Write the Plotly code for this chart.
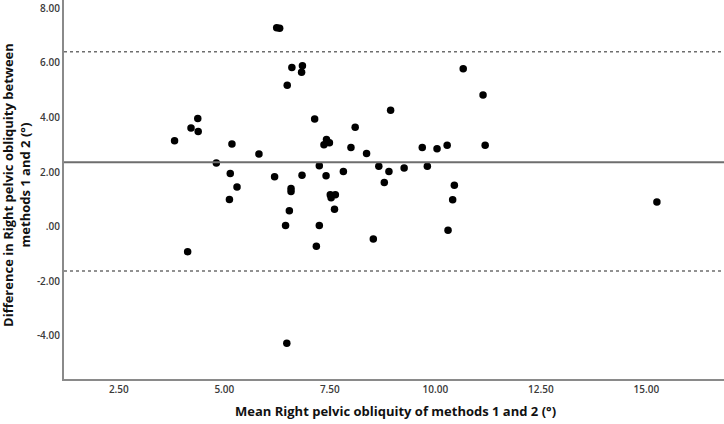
import plotly.graph_objects as go

# Bland-Altman data: mean of methods (x) and difference (y)
mean_vals = [6.24, 6.31, 6.60, 6.85, 6.83, 6.49, 4.37, 4.21, 4.38, 3.82,
             5.18, 5.82, 4.81, 5.14, 5.30, 5.12, 6.19, 6.58, 6.58, 7.14,
             7.42, 7.36, 7.49, 8.10, 8.00, 8.37, 7.25, 6.84, 7.41, 7.82,
             7.51, 7.63, 7.53, 6.54, 6.45, 7.25, 7.61, 7.18, 4.13, 6.48,
             8.94, 9.69, 10.04, 10.28, 10.66, 11.13, 11.18, 8.66, 8.90, 8.79,
             9.26, 9.81, 10.45, 10.41, 8.53, 10.30, 15.25]
diff_vals = [7.29, 7.27, 5.83, 5.90, 5.66, 5.18, 3.96, 3.62, 3.49, 3.15,
             3.03, 2.66, 2.33, 1.95, 1.45, 0.99, 1.83, 1.40, 1.29, 3.95,
             3.19, 3.00, 3.07, 3.64, 2.90, 2.68, 2.23, 1.88, 1.86, 2.02,
             1.17, 1.17, 1.06, 0.58, 0.04, 0.04, 0.64, -0.72, -0.92, -4.28,
             4.27, 2.90, 2.85, 2.98, 5.79, 4.83, 2.98, 2.21, 2.02, 1.62,
             2.15, 2.21, 1.52, 0.98, -0.46, -0.13, 0.90]

mean_diff = 2.36
upper_loa = 6.41
lower_loa = -1.63

x_tickvals = [2.5, 5.0, 7.5, 10.0, 12.5, 15.0]
x_ticktext = ["2.50", "5.00", "7.50", "10.00", "12.50", "15.00"]
y_tickvals = [8, 6, 4, 2, 0, -2, -4]
y_ticktext = ["8.00", "6.00", "4.00", "2.00", ".00", "-2.00", "-4.00"]

x_title = "Mean Right pelvic obliquity of methods 1 and 2 (°)"
y_title = "Difference in Right pelvic obliquity between<br>methods 1 and 2 (°)"

fig = go.Figure()
fig.add_trace(go.Scatter(
    x=mean_vals, y=diff_vals, mode="markers",
    marker=dict(color="black", size=7.5, line=dict(width=0)),
    showlegend=False, hoverinfo="skip"))

line_col = "#6e6e6e"
fig.add_shape(type="line", xref="x domain", yref="y", x0=0, x1=1,
              y0=mean_diff, y1=mean_diff, line=dict(color=line_col, width=2))
for v in (upper_loa, lower_loa):
    fig.add_shape(type="line", xref="x domain", yref="y", x0=0, x1=1,
                  y0=v, y1=v, line=dict(color=line_col, width=1.5, dash="dot"))

tick_font = dict(family="Open Sans", size=10, color="#3a3a3a", weight=600)
fig.update_xaxes(range=[1.2, 16.84], tickvals=x_tickvals, ticktext=x_ticktext,
                 showgrid=False, zeroline=False, showline=True,
                 linecolor="#8a8a8a", linewidth=2, ticks="", tickfont=tick_font)
fig.update_yaxes(range=[-5.59, 8.31], tickvals=y_tickvals, ticktext=y_ticktext,
                 showgrid=False, zeroline=False, showline=True,
                 linecolor="#8a8a8a", linewidth=2, ticks="", tickfont=tick_font)

title_font = dict(family="Open Sans", size=13, color="#111111")
fig.add_annotation(text="<b>" + x_title + "</b>", xref="paper", yref="paper",
                   x=0.503, y=-0.0836, xanchor="center", yanchor="middle",
                   showarrow=False, font=title_font)
fig.add_annotation(text="<b>" + y_title.replace("<br>", "</b><br><b>") + "</b>",
                   xref="paper", yref="paper", x=-0.0712, y=0.512,
                   xanchor="center", yanchor="middle", textangle=-90,
                   showarrow=False, font=title_font)

fig.update_layout(width=724, height=424, margin=dict(l=64, r=0, t=0, b=45),
                  plot_bgcolor="white", paper_bgcolor="white")
fig.write_html("out.html")
